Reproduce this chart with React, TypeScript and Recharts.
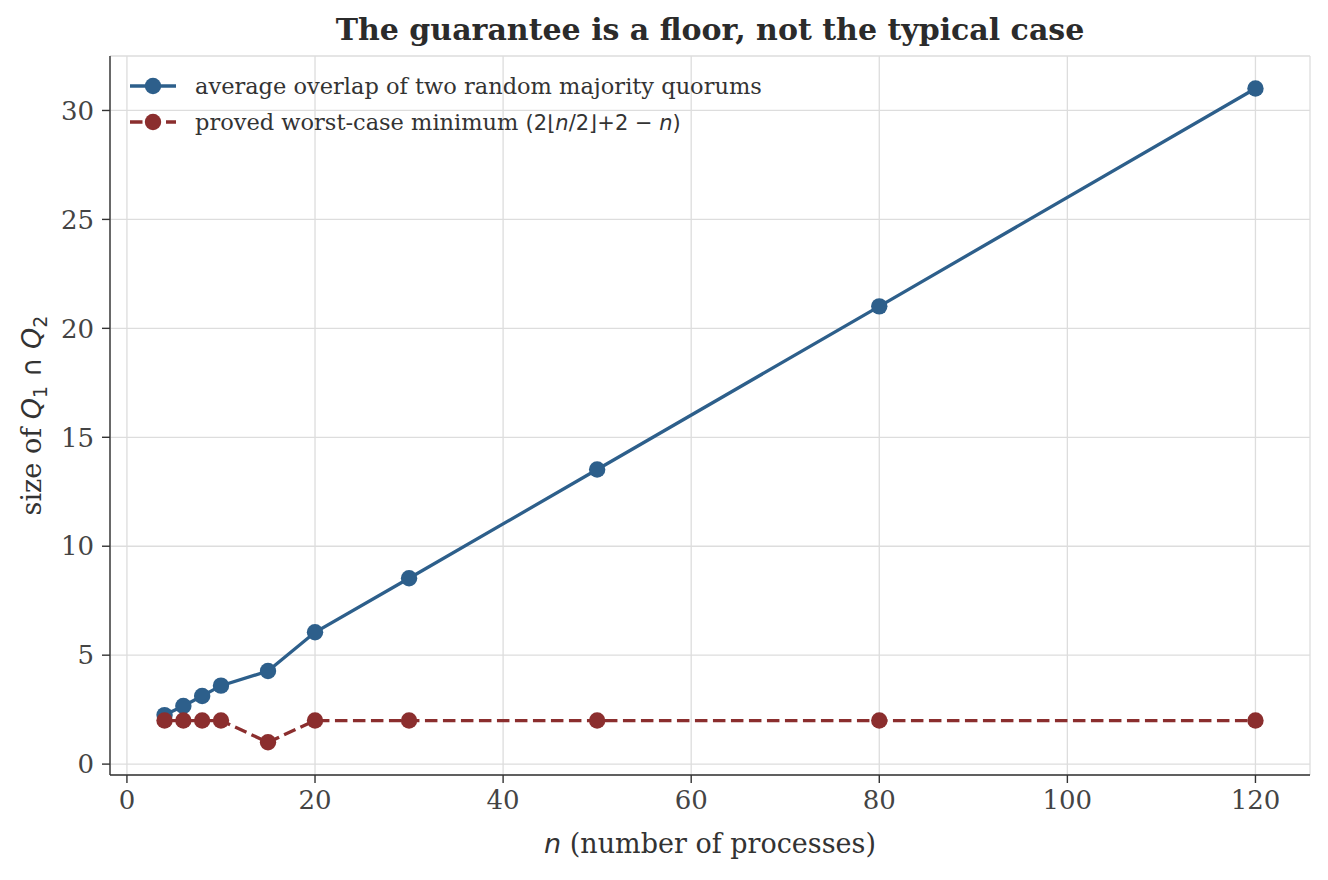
import React from "react";
import { LineChart, Line, XAxis, YAxis, CartesianGrid, Legend } from "recharts";

const nValues = [4, 6, 8, 10, 15, 20, 30, 50, 80, 120];
const avgOverlap = [2.25, 2.67, 3.125, 3.6, 4.27, 6.05, 8.53, 13.52, 21.01, 31.01];
const worstCase = [2, 2, 2, 2, 1, 2, 2, 2, 2, 2];
const xTicks = [0, 20, 40, 60, 80, 100, 120];
const yTicks = [0, 5, 10, 15, 20, 25, 30];

const BLUE = "#2d5f8b";
const RED = "#8b2e2e";
const SERIF = "'DejaVu Serif', serif";
const SANS = "'DejaVu Sans', sans-serif";
const LW = 3.3;
const DASH = "12.5 5.5";
const R = 8.2;

const data = nValues.map((n, i) => ({ n, avg: avgOverlap[i], worst: worstCase[i] }));

const tickStyle = { fontFamily: SERIF, fontSize: 26, fill: "#444" };

const LegendContent = () => (
  <div style={{ fontFamily: SERIF, fontSize: 22.5, color: "#333", whiteSpace: "nowrap" }}>
    <div style={{ display: "flex", alignItems: "center", height: 36 }}>
      <svg width={50} height={20} style={{ marginRight: 15 }}>
        <line x1={0} y1={10} x2={46} y2={10} stroke={BLUE} strokeWidth={LW} />
        <circle cx={23} cy={10} r={R} fill={BLUE} />
      </svg>
      <span>average overlap of two random majority quorums</span>
    </div>
    <div style={{ display: "flex", alignItems: "center", height: 36 }}>
      <svg width={50} height={20} style={{ marginRight: 15 }}>
        <line x1={0} y1={10} x2={46} y2={10} stroke={RED} strokeWidth={LW} strokeDasharray={DASH} />
        <circle cx={23} cy={10} r={R} fill={RED} />
      </svg>
      <span>
        proved worst-case minimum{" "}
        <span style={{ fontFamily: SANS, fontSize: 21 }}>
          (2⌊<i>n</i>/2⌋+2 − <i>n</i>)
        </span>
      </span>
    </div>
  </div>
);

const YLabel = () => (
  <text
    transform="translate(41, 415.5) rotate(-90)"
    textAnchor="middle"
    fontFamily={SERIF}
    fontSize={27}
    fill="#333"
  >
    size of{" "}
    <tspan fontFamily={SANS} fontStyle="italic">Q</tspan>
    <tspan fontFamily={SANS} fontSize={19} dy={6}>1</tspan>
    <tspan fontFamily={SANS} dy={-6}> ∩ </tspan>
    <tspan fontFamily={SANS} fontStyle="italic">Q</tspan>
    <tspan fontFamily={SANS} fontSize={19} dy={6}>2</tspan>
  </text>
);

const XLabel = () => (
  <text x={710} y={853} textAnchor="middle" fontFamily={SERIF} fontSize={27} fill="#333">
    <tspan fontFamily={SANS} fontStyle="italic">n</tspan> (number of processes)
  </text>
);

export default function App() {
  return (
    <div style={{ position: "absolute", left: 0, top: 0, width: 1328, height: 880, background: "#fff" }}>
      <LineChart width={1328} height={880} data={data} margin={{ top: 56, right: 18, left: 10, bottom: 0 }}>
        <CartesianGrid stroke="#dddddd" strokeWidth={1.3} />
        <XAxis
          dataKey="n"
          type="number"
          domain={[-1.8, 125.8]}
          ticks={xTicks}
          allowDataOverflow
          height={105}
          tick={tickStyle}
          tickSize={8}
          tickMargin={8}
          stroke="#333"
          strokeWidth={1.4}
          label={<XLabel />}
        />
        <YAxis
          type="number"
          domain={[-0.5, 32.5]}
          ticks={yTicks}
          allowDataOverflow
          width={100}
          tick={tickStyle}
          tickSize={8}
          tickMargin={8}
          stroke="#333"
          strokeWidth={1.4}
          label={<YLabel />}
        />
        <Legend
          layout="horizontal"
          verticalAlign="middle"
          align="center"
          content={<LegendContent />}
          wrapperStyle={{ position: "absolute", left: 130, top: 68, width: "auto", height: "auto" }}
        />
        <Line
          dataKey="avg"
          stroke={BLUE}
          strokeWidth={LW}
          dot={{ r: R, fill: BLUE, stroke: BLUE, strokeWidth: 0 }}
          isAnimationActive={false}
        />
        <Line
          dataKey="worst"
          stroke={RED}
          strokeWidth={LW}
          strokeDasharray={DASH}
          dot={{ r: R, fill: RED, stroke: RED, strokeWidth: 0, strokeDasharray: "0" }}
          isAnimationActive={false}
        />
      </LineChart>
      <svg width={1328} height={60} style={{ position: "absolute", left: 0, top: 0, pointerEvents: "none" }}>
        <text
          x={710}
          y={40}
          textAnchor="middle"
          fontFamily={SERIF}
          fontWeight="bold"
          fontSize={30}
          fill="#2b2b2b"
        >
          The guarantee is a floor, not the typical case
        </text>
      </svg>
    </div>
  );
}
